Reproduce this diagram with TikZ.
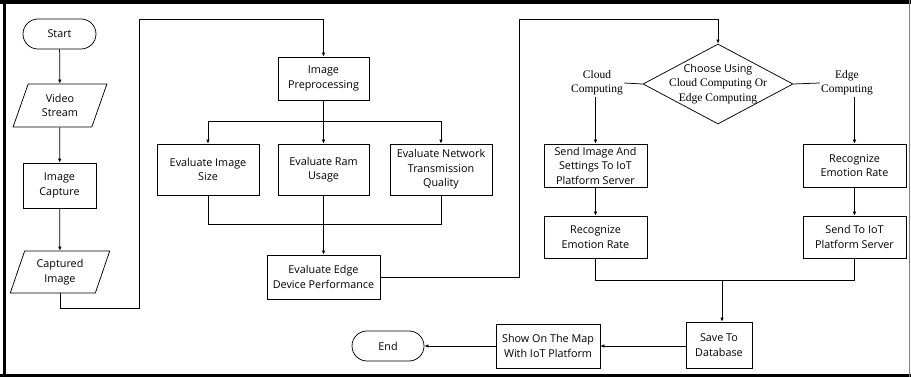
\documentclass[tikz,border=0pt]{standalone}
\usepackage{fontspec}
\setmainfont{Open Sans}
\newfontfamily\serifx{Liberation Serif}
\usetikzlibrary{shapes.geometric,arrows.meta}

\tikzset{
	box/.style={draw, rectangle, align=center, inner sep=1pt, font=\fontsize{10.8}{14.5}\selectfont},
	term/.style={draw, rectangle, rounded corners=15pt, align=center, font=\fontsize{10.8}{14.5}\selectfont},
	iobox/.style={draw, trapezium, trapezium left angle=70, trapezium right angle=110, trapezium stretches=true, align=center, inner sep=1pt, font=\fontsize{10.8}{14.5}\selectfont},
	arr/.style={-{Latex[length=4pt,width=3.5pt]}},
	lbl/.style={align=center, inner sep=1pt, font=\serifx\fontsize{11.5}{14}\selectfont},
}

\begin{document}
\begin{tikzpicture}[x=1pt, y=-1pt, line width=0.75pt]
		\useasboundingbox (0,0) rectangle (911,377);

		% Frame
		\draw[line width=4pt] (0,2) -- (911,2);
		\draw[line width=3.5pt] (4.5,0) -- (4.5,377);
		\draw[line width=3pt] (0,375.5) -- (911,375.5);
		\draw[gray, line width=1pt] (909,0) -- (909,377);

		% Input side
		\node[term, minimum width=73, minimum height=30] (start) at (59.5,34) {Start};
		\node[iobox, minimum width=94, minimum height=43] (video) at (60,105.5) {Video\\Stream};
		\node[box, minimum width=73, minimum height=45] (capture) at (59.5,185.5) {Image\\Capture};
		\node[iobox, minimum width=100, minimum height=42] (captured) at (60,272) {Captured\\Image};

		\draw[arr] (start) -- (video);
		\draw[arr] (video) -- (capture);
		\draw[arr] (capture) -- (captured);

		% Preprocessing
		\node[box, minimum width=91, minimum height=43] (prep) at (323.5,78.5) {Image\\Preprocessing};
		\node[box, minimum width=102, minimum height=51] (size) at (208,169.5) {Evaluate Image\\Size};
		\node[box, minimum width=91, minimum height=51] (ram) at (323.5,169.5) {Evaluate Ram\\Usage};
		\node[box, minimum width=102, minimum height=51] (net) at (441,169.5) {Evaluate Network\\Transmission\\Quality};
		\node[box, minimum width=113, minimum height=44] (perf) at (323.5,277) {Evaluate Edge\\Device Performance};

		\coordinate (loopa) at (139,308);
		\coordinate (loopb) at (139,19);
		\coordinate (split) at (323.5,121);
		\coordinate (join) at (323.5,224);

		\draw[arr] (captured.south) |- (loopa) -- (loopb) -| (prep.north);
		\draw (prep) -- (split);
		\draw[arr] (split) -| (size.north);
		\draw[arr] (split) -- (ram.north);
		\draw[arr] (split) -| (net.north);
		\draw (size.south) |- (join);
		\draw (net.south) |- (join);
		\draw[arr] (ram) -- (perf);

		% Decision
		\node[draw, diamond, aspect=1.875, minimum width=150, minimum height=80, inner sep=-8pt, align=center, font=\fontsize{10.8}{14.5}\selectfont] (choose) at (718,84) {Choose Using\\{\serifx\fontsize{11.5}{14}\selectfont Cloud Computing Or}\\{\serifx\fontsize{11.5}{14}\selectfont Edge Computing}};
		\node[lbl] (cloud) at (597,83) {Cloud\\Computing};
		\node[lbl] (edge) at (847,83) {Edge\\Computing};

		\coordinate (loopc) at (519,19);
		\draw[arr] (perf.east) -| (loopc) -| (choose.north);
		\draw (choose.west) -- (cloud.east);
		\draw (choose.east) -- (edge.west);

		% Cloud and edge branches
		\node[box, minimum width=103, minimum height=43] (send) at (595.5,165.5) {Send Image And\\Settings To IoT\\Platform Server};
		\node[box, minimum width=103, minimum height=42] (recog1) at (595.5,237) {Recognize\\Emotion Rate};
		\node[box, minimum width=103, minimum height=43] (recog2) at (854.5,165.5) {Recognize\\Emotion Rate};
		\node[box, minimum width=103, minimum height=42] (sendiot) at (854.5,237) {Send To IoT\\Platform Server};

		\draw[arr] (cloud.south -| send.north) -- (send.north);
		\draw[arr] (send) -- (recog1);
		\draw[arr] (edge.south -| recog2.north) -- (recog2.north);
		\draw[arr] (recog2) -- (sendiot);

		% Output
		\node[box, minimum width=66, minimum height=46] (save) at (719,345) {Save To\\Database};
		\node[box, minimum width=104, minimum height=44] (show) at (548,346) {Show On The Map\\With IoT Platform};
		\node[term, minimum width=72, minimum height=30] (end) at (388,346) {End};

		\coordinate (join2) at (722,280);
		\draw (recog1.south) |- (join2);
		\draw (sendiot.south) |- (join2);
		\draw[arr] (join2) -- (join2 |- save.north);
		\draw[arr] (save.west |- show) -- (show.east);
		\draw[arr] (show) -- (end);
	\end{tikzpicture}
\end{document}
